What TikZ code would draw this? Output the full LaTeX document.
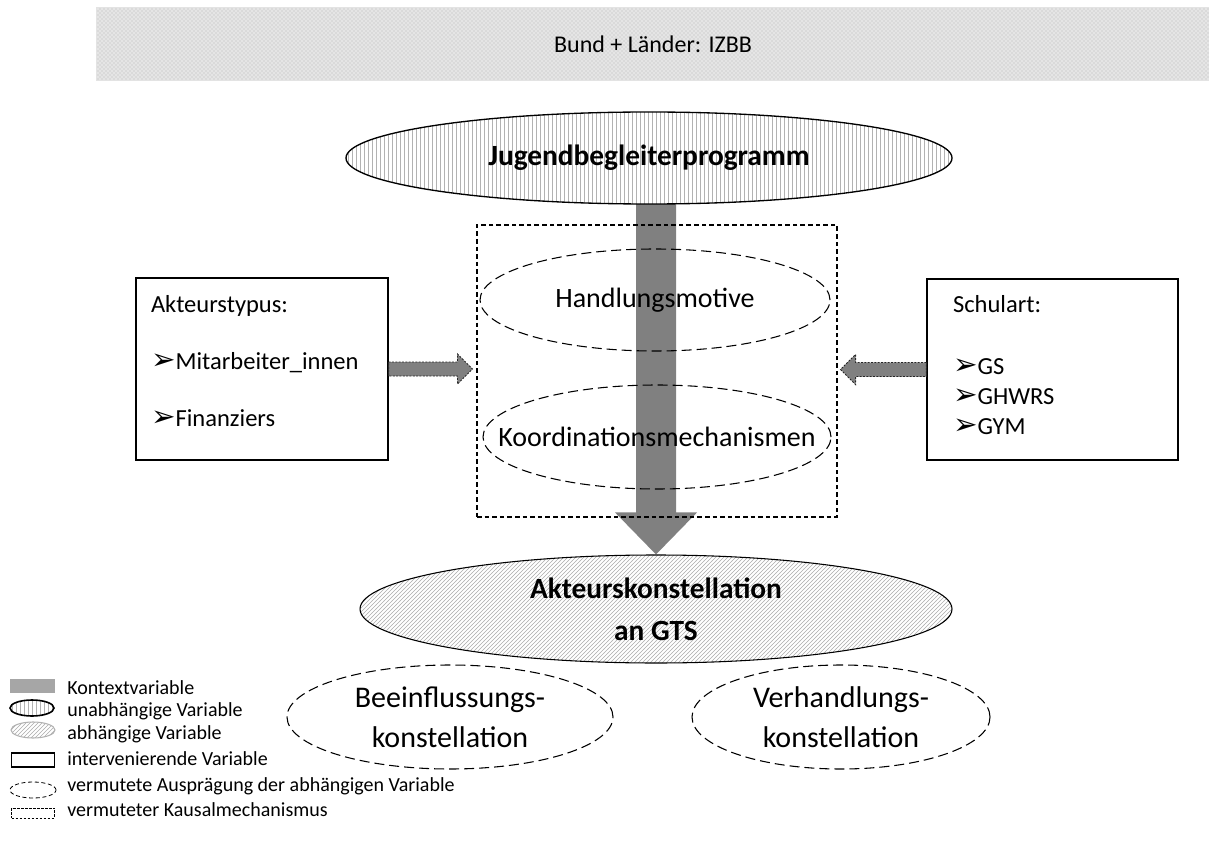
\documentclass[tikz,border=0pt]{standalone}
\usepackage{fontspec}
\setmainfont{Carlito}
\newfontfamily\symfont{DejaVu Sans}
\usetikzlibrary{shapes.geometric,patterns,calc,backgrounds}
\newcommand\pxu{0.75pt}
\newcommand\bul{{\symfont\fontsize{22}{22}\selectfont ➢}}

\begin{document}
\begin{tikzpicture}[x=0.75pt,y=-0.75pt,
  banner/.style={rectangle, draw=gray!22, line width=0.8pt,
    preaction={fill=gray!20}, pattern=crosshatch dots, pattern color=gray!55,
    font=\fontsize{18}{22}\selectfont},
  indep/.style={ellipse, draw=black, line width=1pt, inner sep=0pt,
    preaction={fill=white}, pattern=vertical lines, pattern color=gray!60},
  dep/.style={ellipse, draw=black, line width=0.8pt, inner sep=0pt,
    preaction={fill=white}, pattern=north east lines, pattern color=gray!65},
  interv/.style={rectangle, draw=black, line width=0.9pt},
  expect/.style={ellipse, draw=black, line width=0.8pt, inner sep=0pt,
    dash pattern=on 7.5pt off 3.75pt},
  mechbox/.style={rectangle, draw=black, line width=0.8pt, inner sep=0pt,
    dash pattern=on 3.5pt off 2.2pt},
  ctx/.style={fill=gray, draw=none},
  ctxbox/.style={rectangle, fill=black!35, draw=none, inner sep=0pt},
  sidearr/.style={fill=gray, draw=black!85, line width=0.7pt,
    dash pattern=on 1.5pt off 1pt},
  boldtext/.style={font=\fontsize{22}{31.5}\selectfont\bfseries, align=center},
  etext/.style={font=\fontsize{21}{30}\selectfont, align=center},
  boxtext/.style={font=\fontsize{18.4}{22.5}\selectfont, align=left},
  legtext/.style={font=\fontsize{15}{17}\selectfont, anchor=west, inner sep=0pt}
]
\useasboundingbox (0,0) rectangle (1209,841);

% context: federal and state level
\node[banner, anchor=north west, minimum width=1113*\pxu, minimum height=73*\pxu]
  (bund) at (96,7) {Bund + Länder: IZBB};

% independent variable
\node[indep, minimum width=606*\pxu, minimum height=92*\pxu,
  label={[boldtext]center:Jugendbegleiterprogramm}] (jbp) at (649,158) {};

% causal mechanism with its two components
\node[mechbox, minimum width=360*\pxu, minimum height=292*\pxu] (mech) at (657,371) {};
\node[expect, minimum width=350*\pxu, minimum height=102*\pxu,
  label={[etext]center:Handlungsmotive}] (hm) at (655,300) {};
\node[expect, minimum width=348*\pxu, minimum height=104*\pxu,
  label={[etext]center:Koordinationsmechanismen}] (km) at (657,437) {};

% dependent variable
\node[dep, minimum width=592*\pxu, minimum height=108*\pxu,
  label={[boldtext]center:Akteurskonstellation\\an GTS}] (akt) at (656,609) {};

% expected forms of the dependent variable
\node[expect, minimum width=326*\pxu, minimum height=104*\pxu,
  label={[etext, font=\fontsize{22.5}{30}\selectfont]center:Beeinflussungs-\\konstellation}] (bk) at (450,717) {};
\node[expect, minimum width=298*\pxu, minimum height=104*\pxu,
  label={[etext, font=\fontsize{22.5}{30}\selectfont]center:Verhandlungs-\\konstellation}] (vk) at (841,717) {};

% intervening variables
\node[interv, minimum width=252*\pxu, minimum height=182*\pxu,
  inner xsep=15*\pxu, text width=222*\pxu, boxtext,
  font=\fontsize{18.4}{42.5}\selectfont] (lbox) at (262,369)
  {Akteurstypus:\\\bul Mitarbeiter\_innen\\\bul Finanziers\rule[-12pt]{0pt}{12pt}};
\node[interv, minimum width=251*\pxu, minimum height=181*\pxu,
  inner xsep=26*\pxu, text width=199*\pxu, boxtext] (rbox) at (1052.5,369.5)
  {Schulart:\\[24pt]\bul GS\\\bul GHWRS\\\bul GYM\rule[-7pt]{0pt}{7pt}};

% big context arrow from the programme to the constellation
\begin{scope}[on background layer]
  \coordinate (bigtip) at (akt.north);
  \coordinate (bigtop) at (akt.north |- jbp.south);
  \fill[ctx] ($(bigtop)+(-20,-2)$) -- ($(bigtip)+(-20,-42)$) -- ($(bigtip)+(-41,-42)$)
    -- (bigtip) -- ($(bigtip)+(41,-42)$) -- ($(bigtip)+(20,-42)$)
    -- ($(bigtop)+(20,-2)$) -- cycle;
\end{scope}

% arrows from the intervening variables into the mechanism
\coordinate (la) at (lbox.east);
\coordinate (lt) at ($(lbox.east -| mech.west)+(-4,0)$);
\filldraw[sidearr] ($(la)+(0,-7)$) -- ($(lt)+(-15,-7)$) -- ($(lt)+(-15,-15)$) -- (lt)
  -- ($(lt)+(-15,15)$) -- ($(lt)+(-15,7)$) -- ($(la)+(0,7)$) -- cycle;
\coordinate (ra) at (rbox.west);
\coordinate (rt) at ($(rbox.west -| mech.east)+(3,0)$);
\filldraw[sidearr] ($(ra)+(0,-7)$) -- ($(rt)+(15,-7)$) -- ($(rt)+(15,-15)$) -- (rt)
  -- ($(rt)+(15,15)$) -- ($(rt)+(15,7)$) -- ($(ra)+(0,7)$) -- cycle;

% legend
\node[ctxbox, minimum width=45*\pxu, minimum height=14*\pxu] (lg1) at (32,686) {};
\node[indep, line width=1.2pt, minimum width=44*\pxu, minimum height=16*\pxu] (lg2) at (32,708) {};
\node[dep, draw=gray!60, minimum width=44*\pxu, minimum height=16*\pxu] (lg3) at (33,730) {};
\node[interv, minimum width=43*\pxu, minimum height=14*\pxu] (lg4) at (33,760) {};
\node[expect, line width=0.6pt, dash pattern=on 3pt off 2pt,
  minimum width=46*\pxu, minimum height=16*\pxu] (lg5) at (33,790) {};
\node[mechbox, line width=0.6pt, dash pattern=on 2pt off 1pt,
  minimum width=43*\pxu, minimum height=10*\pxu] (lg6) at (33,813) {};
\node[legtext] (lt1) at (67,688) {Kontextvariable};
\node[legtext] (lt2) at (67,711) {unabhängige Variable};
\node[legtext] (lt3) at (67,734) {abhängige Variable};
\node[legtext] (lt4) at (67,759) {intervenierende Variable};
\node[legtext] (lt5) at (67,786) {vermutete Ausprägung der abhängigen Variable};
\node[legtext] (lt6) at (67,810) {vermuteter Kausalmechanismus};
\end{tikzpicture}
\end{document}
